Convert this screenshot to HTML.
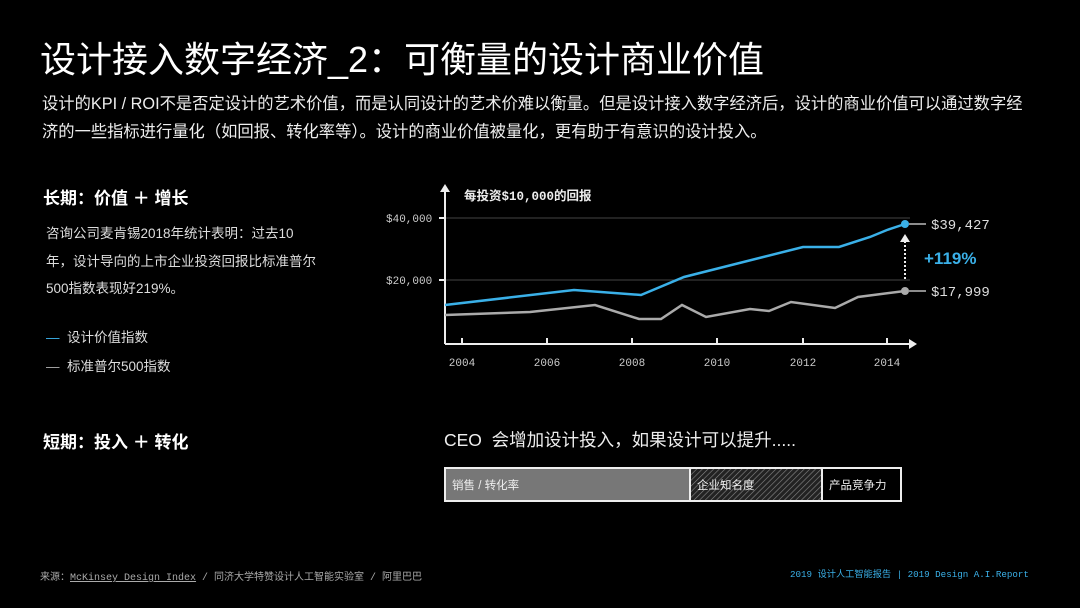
<!DOCTYPE html>
<html><head><meta charset="utf-8"><style>
body{margin:0;width:1080px;height:608px;background:#000;overflow:hidden;font-family:"Liberation Sans","Noto Sans CJK SC",sans-serif;color:#fff;position:relative}
.a{position:absolute;white-space:nowrap}
.m{font-family:"Liberation Mono","Noto Sans CJK SC",monospace}
</style></head><body>
<div class="a" style="left:40px;top:37px;font-size:36px;line-height:46px;">设计接入数字经济_2：可衡量的设计商业价值</div>
<div class="a" style="left:42px;top:90px;font-size:16.3px;line-height:28px;color:#eee;">设计的KPI / ROI不是否定设计的艺术价值，而是认同设计的艺术价难以衡量。但是设计接入数字经济后，设计的商业价值可以通过数字经<br>济的一些指标进行量化（如回报、转化率等）。设计的商业价值被量化，更有助于有意识的设计投入。</div>
<div class="a" style="left:43px;top:184px;font-size:17px;font-weight:bold;">长期：价值 ＋ 增长</div>
<div class="a" style="left:46px;top:220px;font-size:13.5px;line-height:27.5px;color:#ddd;">咨询公司麦肯锡2018年统计表明：过去10<br>年，设计导向的上市企业投资回报比标准普尔<br>500指数表现好219%。</div>
<div class="a" style="left:46px;top:326px;font-size:13.5px;color:#ddd;"><span style="color:#3ab0e8">—</span>&nbsp; 设计价值指数</div>
<div class="a" style="left:46px;top:355px;font-size:13.5px;color:#ddd;"><span style="color:#aaa">—</span>&nbsp; 标准普尔500指数</div>
<div class="a" style="left:43px;top:428px;font-size:17px;font-weight:bold;">短期：投入 ＋ 转化</div>
<svg class="a" style="left:0;top:0" width="1080" height="608">
<g stroke="#444" stroke-width="1"><line x1="446" y1="218" x2="910" y2="218"/><line x1="446" y1="280" x2="910" y2="280"/></g>
<g stroke="#eee" stroke-width="2" fill="none"><line x1="445" y1="344" x2="910" y2="344"/><line x1="445" y1="344" x2="445" y2="192"/>
<line x1="462" y1="338" x2="462" y2="344"/><line x1="547" y1="338" x2="547" y2="344"/><line x1="632" y1="338" x2="632" y2="344"/><line x1="717" y1="338" x2="717" y2="344"/><line x1="803" y1="338" x2="803" y2="344"/><line x1="887" y1="338" x2="887" y2="344"/>
<line x1="439" y1="218" x2="446" y2="218"/><line x1="439" y1="280" x2="446" y2="280"/></g>
<polygon points="909,339 917,344 909,349" fill="#eee"/><polygon points="440,192 445,184 450,192" fill="#eee"/>
<polyline fill="none" stroke="#aaa" stroke-width="2.5" points="445,315 530,312 595,305 639,319 661,319 682,305 706,317 750,309 769,311 791,302 835,308 858,297 905,291"/>
<polyline fill="none" stroke="#3ab0e8" stroke-width="2.5" points="445,305 574,290 641,295 684,277 803,247 839,247 870,237 887,230 905,224"/>
<circle cx="905" cy="291" r="4" fill="#aaa"/><circle cx="905" cy="224" r="4" fill="#3ab0e8"/>
<line x1="909" y1="224" x2="926" y2="224" stroke="#bbb" stroke-width="1.5"/><line x1="909" y1="291" x2="926" y2="291" stroke="#bbb" stroke-width="1.5"/>
<line x1="905" y1="279" x2="905" y2="240" stroke="#eee" stroke-width="2" stroke-dasharray="2,2"/><polygon points="900,242 905,234 910,242" fill="#eee"/>
<g font-family="Liberation Mono,monospace" fill="#ccc" font-size="11"><text x="386" y="222">$40,000</text><text x="386" y="284">$20,000</text>
<g text-anchor="middle"><text x="462" y="366">2004</text><text x="547" y="366">2006</text><text x="632" y="366">2008</text><text x="717" y="366">2010</text><text x="803" y="366">2012</text><text x="887" y="366">2014</text></g></g>
<text x="931" y="229" font-family="Liberation Mono,monospace" font-size="14" fill="#ddd">$39,427</text>
<text x="931" y="296" font-family="Liberation Mono,monospace" font-size="14" fill="#ddd">$17,999</text>
<text x="924" y="264" font-family="Liberation Sans,sans-serif" font-weight="bold" font-size="17" fill="#3ab0e8">+119%</text>
<text x="464" y="200" font-family="Liberation Mono,Noto Sans CJK SC,monospace" font-weight="bold" font-size="12.5" fill="#eee">每投资$10,000的回报</text>
<defs><pattern id="h" width="4" height="4" patternUnits="userSpaceOnUse" patternTransform="rotate(45)"><rect width="4" height="4" fill="#222"/><line x1="0" y1="0" x2="0" y2="4" stroke="#888" stroke-width="1.2"/></pattern></defs>
<rect x="445" y="468" width="245" height="33" fill="#777"/>
<rect x="690" y="468" width="132" height="33" fill="url(#h)"/>
<rect x="445" y="468" width="456" height="33" fill="none" stroke="#eee" stroke-width="2"/>
<line x1="690" y1="468" x2="690" y2="501" stroke="#eee" stroke-width="2"/><line x1="822" y1="468" x2="822" y2="501" stroke="#eee" stroke-width="2"/>
<g font-family="Liberation Sans,Noto Sans CJK SC,sans-serif" font-size="11.5" fill="#eee"><text x="452" y="489">销售 / 转化率</text><text x="697" y="489">企业知名度</text><text x="829" y="489">产品竞争力</text></g>
</svg>
<div class="a" style="left:444px;top:427px;font-size:17.5px;color:#eee;">CEO&nbsp; 会增加设计投入，如果设计可以提升.....</div>
<div class="a m" style="left:40px;top:568px;font-size:10px;color:#aaa;">来源：<u>McKinsey Design Index</u> / 同济大学特赞设计人工智能实验室 / 阿里巴巴</div>
<div class="a m" style="left:790px;top:566px;font-size:9.2px;color:#3ab0e8;">2019 设计人工智能报告 | 2019 Design A.I.Report</div>
</body></html>
